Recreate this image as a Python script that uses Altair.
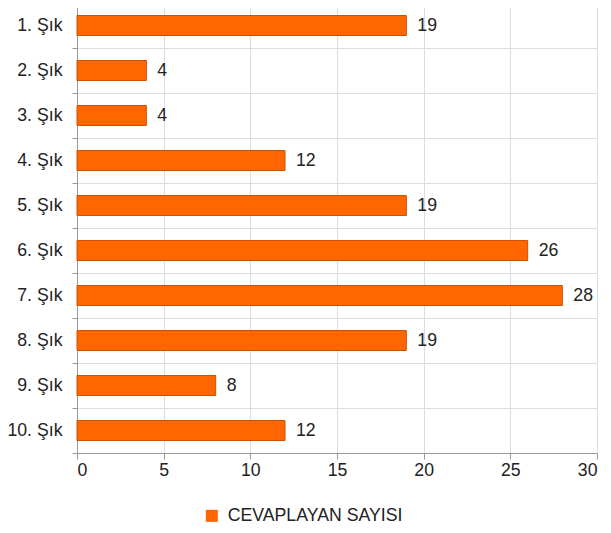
import altair as alt
import pandas as pd

categories = ["1. Şık", "2. Şık", "3. Şık", "4. Şık", "5. Şık",
              "6. Şık", "7. Şık", "8. Şık", "9. Şık", "10. Şık"]
values = [19, 4, 4, 12, 19, 26, 28, 19, 8, 12]
series_name = "CEVAPLAYAN SAYISI"
x_ticks = [0, 5, 10, 15, 20, 25, 30]

df = pd.DataFrame({"cat": categories, "val": values, "series": [series_name] * len(values)})

FONT = "Liberation Sans"
FS = 17.7

y_enc = alt.Y("cat:N", sort=categories, title=None,
              scale=alt.Scale(paddingInner=0, paddingOuter=0),
              axis=alt.Axis(tickBand="extent", grid=True, gridColor="#dddddd",
                            domainColor="#999999", tickColor="#999999", tickSize=5,
                            labelFontSize=FS, labelColor="#222222", labelFont=FONT,
                            labelPadding=10))
x_enc = alt.X("val:Q", title=None,
              scale=alt.Scale(domain=[0, 30], nice=False),
              axis=alt.Axis(values=x_ticks, grid=True, gridColor="#dddddd",
                            domainColor="#999999", tickColor="#999999", tickSize=6,
                            labelFontSize=FS, labelColor="#222222", labelFont=FONT,
                            labelPadding=2))

bars = alt.Chart(df).mark_bar(size=20, stroke="#cc5200", strokeWidth=1).encode(
    x=x_enc, y=y_enc,
    color=alt.Color("series:N", title=None,
                    scale=alt.Scale(range=["#ff6600"]),
                    legend=alt.Legend(orient="none", legendX=126, legendY=504,
                                      symbolType="square", symbolSize=144,
                                      symbolStrokeWidth=0, labelFontSize=FS,
                                      labelFont=FONT, labelColor="#222222",
                                      labelOffset=7, labelLimit=400)),
)

texts = alt.Chart(df).mark_text(align="left", baseline="middle", dx=11,
                                fontSize=FS, font=FONT, color="#222222").encode(
    x="val:Q", y=alt.Y("cat:N", sort=categories), text="val:Q")

chart = (bars + texts).properties(
    width=520, height=450,
    autosize="none",
    padding={"left": 69, "top": -5, "right": 6, "bottom": 80},
).configure_view(stroke=None)

chart.save("out.html", embed_options={"renderer": "svg", "actions": False})
